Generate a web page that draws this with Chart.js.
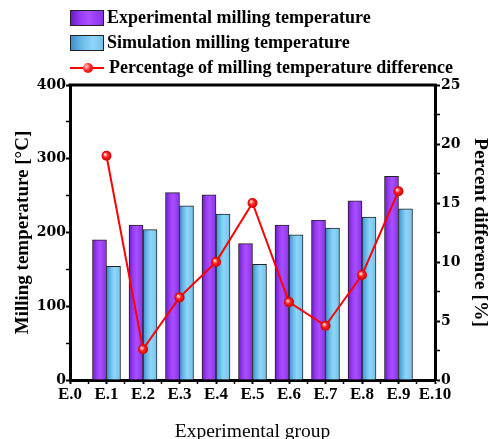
<!DOCTYPE html>
<html>
<head>
<meta charset="utf-8">
<script src="https://cdn.jsdelivr.net/npm/chart.js@4.4.0/dist/chart.umd.min.js"></script>
<style>
  body { margin: 0; background: #fff; }
  #wrap { position: relative; width: 498px; height: 439px; }
  #legend { position: absolute; left: 70px; top: 5px; font: bold 18px "Liberation Serif", serif; color: #000; z-index: 2; }
  .row { height: 25px; display: flex; align-items: center; white-space: nowrap; }
  .swatch { width: 32px; height: 14px; border: 1px solid #222; margin-right: 3px; }
  .exp { background: linear-gradient(90deg, #6a1cc4 0%, #9a3cf5 30%, #a94fff 55%, #8a30e8 100%); }
  .sim { background: linear-gradient(90deg, #3f8fcc 0%, #6bbcea 35%, #8fd6fa 70%, #74c0ec 100%); }
  .lineicon { position: relative; width: 34px; height: 14px; margin-right: 5px; }
  .lineicon:before { content: ""; position: absolute; left: 0; right: 0; top: 6px; height: 2px; background: #ff0000; }
  .lineicon:after { content: ""; position: absolute; left: 13px; top: 2px; width: 10px; height: 10px; border-radius: 50%;
    background: radial-gradient(circle at 35% 35%, #ffd0d0 0%, #ff2020 45%, #d00000 100%); }
  canvas { position: absolute; left: 0; top: 0; }
</style>
</head>
<body>
<div id="wrap">
  <div id="legend">
    <div class="row"><span class="swatch exp"></span>Experimental milling temperature</div>
    <div class="row"><span class="swatch sim"></span>Simulation milling temperature</div>
    <div class="row"><span class="lineicon"></span>Percentage of milling temperature difference</div>
  </div>
  <canvas id="myChart" width="498" height="439"></canvas>
</div>
<script>
const groupLabels = ['E.0', 'E.1', 'E.2', 'E.3', 'E.4', 'E.5', 'E.6', 'E.7', 'E.8', 'E.9', 'E.10'];
const groups = [1, 2, 3, 4, 5, 6, 7, 8, 9];
const experimentalTemp = [190, 210, 254, 251, 185, 210, 217, 243, 276];
const simulationTemp = [154, 204, 236, 225, 157, 197, 206, 221, 232];
const percentDiff = [19.0, 2.6, 7.0, 10.0, 15.0, 6.6, 4.6, 8.9, 16.0];

const FONT = '"Liberation Serif", "Times New Roman", serif';
const TICKFONT = '"DejaVu Serif", serif';

function pairs(values) {
  return groups.map((g, i) => ({ x: g, y: values[i] }));
}

// horizontal gradient per bar, radial shine per point, top frame line
const shading = {
  id: 'shading',
  beforeDatasetsDraw(chart) {
    const ctx = chart.ctx;
    const stops = [
      ['#6a1cc4', '#9a3cf5', '#a94fff', '#8a30e8'],
      ['#3f8fcc', '#6bbcea', '#8fd6fa', '#74c0ec']
    ];
    [0, 1].forEach(di => {
      chart.getDatasetMeta(di).data.forEach(el => {
        const left = el.x - el.width / 2;
        const g = ctx.createLinearGradient(left, 0, left + el.width, 0);
        const s = stops[di];
        g.addColorStop(0, s[0]);
        g.addColorStop(0.3, s[1]);
        g.addColorStop(0.55, s[2]);
        g.addColorStop(1, s[3]);
        el.options.backgroundColor = g;
      });
    });
    chart.getDatasetMeta(2).data.forEach(el => {
      const g = ctx.createRadialGradient(el.x - 1.5, el.y - 1.5, 0.5, el.x, el.y, 5);
      g.addColorStop(0, '#ffd6d6');
      g.addColorStop(0.45, '#ff2020');
      g.addColorStop(1, '#cc0000');
      el.options.backgroundColor = g;
    });
  },
  afterDraw(chart) {
    const { ctx, chartArea } = chart;
    ctx.save();
    ctx.strokeStyle = '#000';
    ctx.lineWidth = 3;
    ctx.beginPath();
    ctx.moveTo(chartArea.left - 1.5, chartArea.top);
    ctx.lineTo(chartArea.right + 1.5, chartArea.top);
    ctx.stroke();
    ctx.restore();
  }
};

const minorWidth = (major) => (c) => (c.tick && c.tick.value % major === 0 ? 2 : 1.5);

const ctx = document.getElementById('myChart').getContext('2d');
new Chart(ctx, {
  type: 'bar',
  data: {
    datasets: [
      {
        label: 'Experimental milling temperature',
        data: pairs(experimentalTemp),
        yAxisID: 'y',
        backgroundColor: () => '#9a3cf5',
        borderColor: '#222',
        borderWidth: 1,
        barThickness: 14,
        order: 1
      },
      {
        label: 'Simulation milling temperature',
        data: pairs(simulationTemp),
        yAxisID: 'y',
        backgroundColor: () => '#6bbcea',
        borderColor: '#222',
        borderWidth: 1,
        barThickness: 14,
        order: 1
      },
      {
        type: 'line',
        label: 'Percentage of milling temperature difference',
        data: pairs(percentDiff),
        yAxisID: 'y1',
        borderColor: '#ff0000',
        borderWidth: 2,
        pointRadius: 5,
        pointBorderWidth: 0,
        pointBackgroundColor: () => '#ff2020',
        tension: 0,
        order: 0
      }
    ]
  },
  options: {
    responsive: false,
    animation: false,
    layout: { padding: { top: 85, left: 0, right: 0, bottom: 0 } },
    plugins: { legend: { display: false }, tooltip: { enabled: false } },
    scales: {
      x: {
        type: 'linear',
        min: 0,
        max: 10,
        offset: false,
        afterFit: s => { s.height = 59; },
        ticks: {
          stepSize: 0.5,
          autoSkip: false,
          maxRotation: 0,
          padding: 0,
          color: '#000',
          font: { family: FONT, size: 17, weight: 'bold' },
          callback: v => (Number.isInteger(v) ? groupLabels[v] : '')
        },
        grid: { offset: false, drawOnChartArea: false, tickLength: 4, tickColor: '#000', tickWidth: minorWidth(1) },
        border: { color: '#000', width: 3 },
        title: { display: true, text: 'Experimental group', color: '#000', font: { family: FONT, size: 19.5 }, padding: { top: 0, bottom: -5 } }
      },
      y: {
        position: 'left',
        min: 0,
        max: 400,
        afterFit: s => { s.width = 70; },
        ticks: {
          stepSize: 50,
          autoSkip: false,
          padding: 0,
          color: '#000',
          font: { family: TICKFONT, size: 14, weight: 'bold' },
          callback: v => (v % 100 === 0 ? v : '')
        },
        grid: { drawOnChartArea: false, tickLength: 4, tickColor: '#000', tickWidth: minorWidth(100) },
        border: { color: '#000', width: 3 },
        title: { display: true, text: 'Milling temperature [°C]', color: '#000', font: { family: FONT, size: 19, weight: 'bold' }, padding: { top: 12, bottom: 0 } }
      },
      y1: {
        position: 'right',
        min: 0,
        max: 25,
        afterFit: s => { s.width = 63; },
        ticks: {
          stepSize: 2.5,
          autoSkip: false,
          padding: 1,
          color: '#000',
          font: { family: TICKFONT, size: 14, weight: 'bold' },
          callback: v => (v % 5 === 0 ? v : '')
        },
        grid: { drawOnChartArea: false, tickLength: 5, tickColor: '#000', tickWidth: minorWidth(5) },
        border: { color: '#000', width: 3 },
        title: { display: true, text: 'Percent difference [%]', color: '#000', font: { family: FONT, size: 19.5, weight: 'bold' }, padding: { top: 6, bottom: 0 } }
      }
    }
  },
  plugins: [shading]
});
</script>
</body>
</html>
